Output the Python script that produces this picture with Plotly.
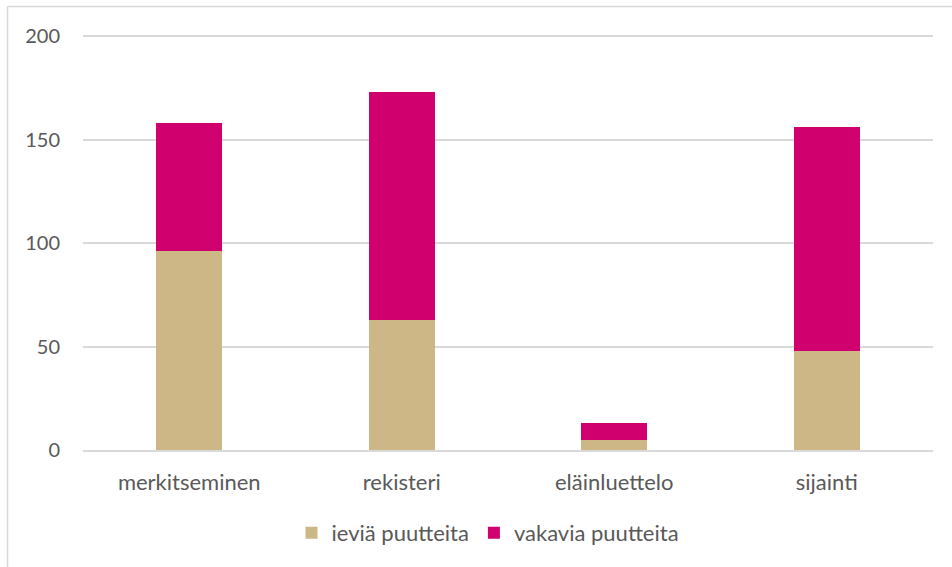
import plotly.graph_objects as go

categories = ["merkitseminen", "rekisteri", "eläinluettelo", "sijainti"]
ievia = [96, 63, 5, 48]
vakavia = [62, 110, 8, 108]
series_names = ["ieviä puutteita", "vakavia puutteita"]
y_ticks = [0, 50, 100, 150, 200]

FONT = "Lato"
TXT = "#595959"
GRID = "#D9D9D9"

L, R, T, B = 83, 19, 34, 117
W, H = 952, 567
PW = W - L - R
PH = H - T - B

fig = go.Figure()
fig.add_trace(go.Bar(x=categories, y=ievia, name=series_names[0],
                     marker=dict(color="#CDB787", line=dict(width=0))))
fig.add_trace(go.Bar(x=categories, y=vakavia, name=series_names[1],
                     marker=dict(color="#D0006F", line=dict(width=0))))

bx = (7.5 - L) / PW
by = 1 + (T - 6.5) / PH
fig.update_layout(
    barmode="stack",
    bargap=0.69,
    width=W, height=H,
    margin=dict(l=L, r=R, t=T, b=B),
    paper_bgcolor="white", plot_bgcolor="white",
    font=dict(family=FONT, size=22, color=TXT),
    showlegend=True,
    legend=dict(orientation="h", x=(488 - L) / PW, xanchor="center",
                y=-(533 - (H - B)) / PH, yanchor="middle",
                font=dict(family=FONT, size=22, color=TXT), traceorder="normal"),
    xaxis=dict(showgrid=False, showline=True, linecolor=GRID, linewidth=1.5,
               ticks="", ticklabelstandoff=12, tickfont=dict(size=22, color=TXT),
               automargin=False),
    yaxis=dict(range=[0, 201], tickvals=y_ticks, showgrid=True, gridcolor=GRID,
               gridwidth=1.5, zeroline=False, showline=False, ticks="",
               ticklabelstandoff=22, tickfont=dict(size=20, color=TXT),
               automargin=False),
    shapes=[
        dict(type="line", xref="paper", yref="paper",
             x0=bx, x1=(W - L) / PW + 0.01, y0=by, y1=by,
             line=dict(color=GRID, width=1.5)),
        dict(type="line", xref="paper", yref="paper",
             x0=bx, x1=bx, y0=by, y1=-(B + 5) / PH,
             line=dict(color=GRID, width=1.5)),
    ],
)

fig.write_html(
    "out.html",
    config={"displayModeBar": False},
    post_script=(
        "document.body.style.margin='0';"
        "document.body.style.overflow='hidden';"
        "document.documentElement.style.overflow='hidden';"
    ),
)
